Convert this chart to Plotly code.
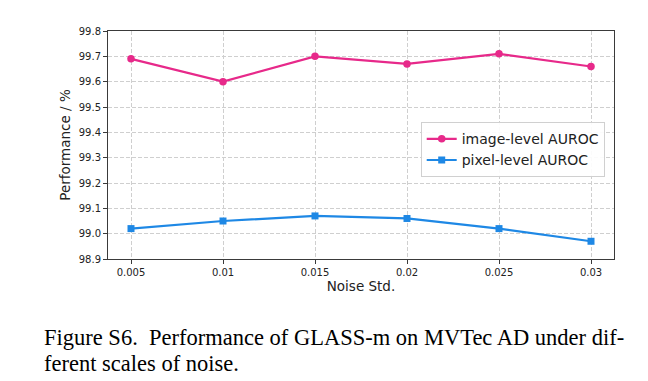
import plotly.graph_objects as go

noise_std = ["0.005", "0.01", "0.015", "0.02", "0.025", "0.03"]
image_auroc = [99.69, 99.60, 99.70, 99.67, 99.71, 99.66]
pixel_auroc = [99.02, 99.05, 99.07, 99.06, 99.02, 98.97]
y_ticks = [98.9, 99.0, 99.1, 99.2, 99.3, 99.4, 99.5, 99.6, 99.7, 99.8]

PINK = "#e7298a"
BLUE = "#1e88e5"

fig = go.Figure()
fig.add_trace(go.Scatter(x=noise_std, y=image_auroc, mode="lines+markers",
                         name="image-level AUROC",
                         line=dict(color=PINK, width=2.2),
                         marker=dict(symbol="circle", size=7.5, color=PINK)))
fig.add_trace(go.Scatter(x=noise_std, y=pixel_auroc, mode="lines+markers",
                         name="pixel-level AUROC",
                         line=dict(color=BLUE, width=2.2),
                         marker=dict(symbol="square", size=7, color=BLUE)))

axis_common = dict(showline=True, linecolor="#3a3a3a", linewidth=1, mirror=True,
                   ticks="outside", ticklen=4, tickcolor="#3a3a3a",
                   showgrid=True, gridcolor="#cfcfcf", griddash="4px,2px", gridwidth=0.8,
                   zeroline=False,
                   tickfont=dict(family="DejaVu Sans", size=10, color="#222222"))

fig.update_layout(
    width=648, height=381,
    margin=dict(l=100, r=42, t=23, b=130),
    paper_bgcolor="white", plot_bgcolor="white",
    xaxis=dict(type="category", range=[-0.25, 5.25],
               title=dict(text="Noise Std.", standoff=3,
                          font=dict(family="DejaVu Sans", size=13.5, color="#222222")),
               **axis_common),
    yaxis=dict(range=[98.9, 99.8], tickvals=y_ticks, tickformat=".1f",
               title=dict(text="Performance / %", standoff=5,
                          font=dict(family="DejaVu Sans", size=13.5, color="#222222")),
               **axis_common),
    legend=dict(x=0.618, y=0.60, xanchor="left", yanchor="top",
                bgcolor="rgba(255,255,255,0.9)", bordercolor="#d0d0d0", borderwidth=1,
                font=dict(family="DejaVu Sans", size=14, color="#222222"),
                itemwidth=30, tracegroupgap=0),
    showlegend=True,
)

fig.add_annotation(text="Figure S6.  Performance of GLASS-m on MVTec AD under dif-",
                   xref="paper", yref="paper", x=-0.130, y=-0.346,
                   xanchor="left", yanchor="middle", showarrow=False,
                   font=dict(family="Liberation Serif", size=22.5, color="black"))
fig.add_annotation(text="ferent scales of noise.",
                   xref="paper", yref="paper", x=-0.130, y=-0.460,
                   xanchor="left", yanchor="middle", showarrow=False,
                   font=dict(family="Liberation Serif", size=22.5, color="black"))

fig.write_html("out.html")
